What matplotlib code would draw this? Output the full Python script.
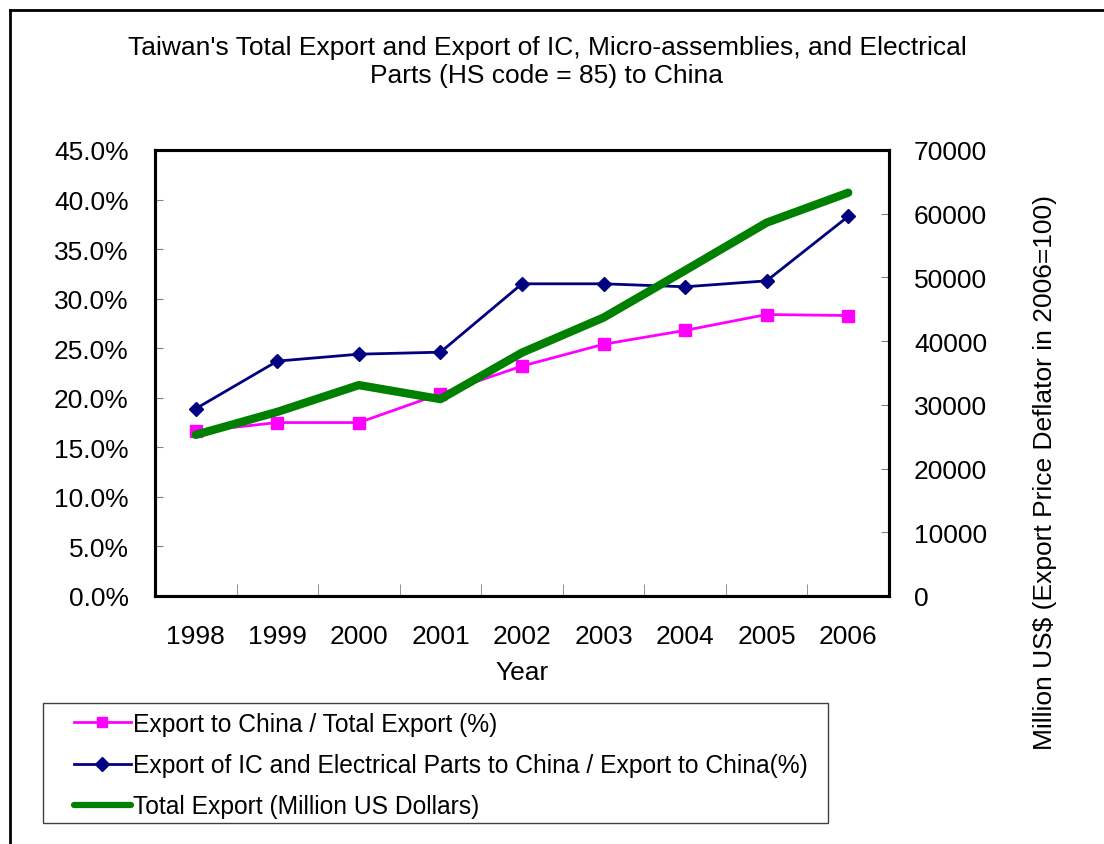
import numpy as np
import matplotlib.pyplot as plt
from matplotlib.ticker import FuncFormatter, FixedLocator, NullFormatter
from matplotlib.patches import Rectangle
from matplotlib.lines import Line2D

plt.rcParams['font.family'] = ['Liberation Sans', 'DejaVu Sans']

years = ['1998', '1999', '2000', '2001', '2002', '2003', '2004', '2005', '2006']
china_share = [16.6, 17.5, 17.5, 20.4, 23.2, 25.4, 26.8, 28.4, 28.3]
ic_share = [18.9, 23.7, 24.4, 24.6, 31.5, 31.5, 31.2, 31.8, 38.3]
total_export = [25300, 28900, 33100, 30900, 38200, 43700, 51100, 58600, 63300]

W, H = 1104, 845
fs = 19

fig = plt.figure(figsize=(W / 100, H / 100), dpi=100)
# outer chart border (only left and top visible)
fig.lines.append(Line2D([9.5 / W, 9.5 / W], [0, 1 - 11 / H], transform=fig.transFigure,
                        color='black', lw=2))
fig.lines.append(Line2D([9.5 / W, 1], [1 - 11 / H, 1 - 11 / H], transform=fig.transFigure,
                        color='black', lw=2))

ax = fig.add_axes([155 / W, 1 - 597 / H, 734 / W, 446 / H])
ax2 = ax.twinx()

x = np.arange(len(years))
l1, = ax.plot(x, china_share, color='#FF00FF', lw=2, marker='s', ms=9,
              label='Export to China / Total Export (%)', zorder=3)
l2, = ax.plot(x, ic_share, color='#000080', lw=2, marker='D', ms=7,
              label='Export of IC and Electrical Parts to China / Export to China(%)', zorder=3)
l3, = ax2.plot(x, total_export, color='#008000', lw=6,
               label='Total Export (Million US Dollars)', solid_capstyle='round')

ax.set_xlim(-0.5, len(years) - 0.5)
ax.set_ylim(0, 45)
ax.set_yticks(np.arange(0, 46, 5))
ax.yaxis.set_major_formatter(FuncFormatter(lambda v, p: f'{v:.1f}%'))
ax2.set_ylim(0, 70000)
ax2.set_yticks(np.arange(0, 70001, 10000))

ax.set_xticks(x)
ax.set_xticklabels(years)
ax.xaxis.set_minor_locator(FixedLocator(np.arange(0.5, len(years) - 1, 1)))
ax.xaxis.set_minor_formatter(NullFormatter())
ax.tick_params(axis='x', which='major', length=0, pad=20, labelsize=fs)
ax.tick_params(axis='x', which='minor', direction='in', length=9, color='#808080')
ax.tick_params(axis='y', direction='in', length=6, color='#808080', labelsize=fs, pad=19)
ax2.tick_params(axis='y', direction='in', length=6, color='#808080', labelsize=fs, pad=18)

for a in (ax, ax2):
    for s in a.spines.values():
        s.set_linewidth(2.2)

ax.set_xlabel('Year', fontsize=fs, labelpad=9)

fig.text(547 / W, 1 - 62 / H,
         "Taiwan's Total Export and Export of IC, Micro-assemblies, and Electrical\nParts (HS code = 85) to China",
         ha='center', va='center', fontsize=fs, linespacing=1.17)
fig.text(1045 / W, 1 - 472 / H,
         'Million US$ (Export Price Deflator in 2006=100)',
         rotation=90, ha='center', va='center', fontsize=fs)

# legend box
fig.patches.append(Rectangle((43 / W, 1 - 824 / H), 785 / W, 120 / H,
                             transform=fig.transFigure, fill=False,
                             edgecolor='#404040', linewidth=1))
leg = fig.legend(handles=[l1, l2, l3], loc='upper left',
                 bbox_to_anchor=(74 / W, 1 - 713 / H),
                 fontsize=17.7, frameon=False, borderpad=0, borderaxespad=0,
                 handlelength=2.3, handletextpad=0.1, labelspacing=0.7)
for h in leg.legend_handles[:2]:
    h.set_markersize(7)
leg.legend_handles[2].set_linewidth(4.5)

fig.savefig('out.png', dpi=100)
